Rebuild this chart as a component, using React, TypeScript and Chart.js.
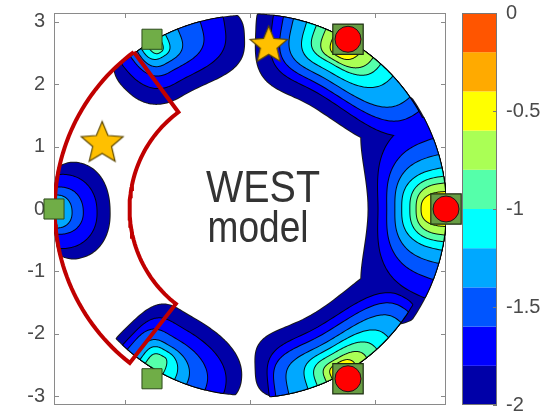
import React, { useEffect, useRef } from 'react';
import { Chart, registerables } from 'chart.js';

Chart.register(...registerables);

const FONT = "'Liberation Sans', Arial, Helvetica, sans-serif";
const R_MAX = Math.PI;

// colour bands of the log10 density (edges and colours, low to high)
const BAND_EDGES = [-2, -1.8, -1.6, -1.4, -1.2, -1, -0.8, -0.6, -0.4, -0.2, 0];
const BAND_COLORS = ['#0000a8', '#0000ff', '#0055ff', '#00a8ff', '#00ffff', '#55ffaa', '#aaff55', '#ffff00', '#ffaa00', '#ff5500'];
const COLORBAR_TICKS = [0, -0.5, -1, -1.5, -2];
const Y_TICKS = [-3, -2, -1, 0, 1, 2, 3];
const X_TICKS = [-2, 0, 2];

// density blobs on the ring: peak angle (deg), outer radius and, per contour level,
// [from angle, to angle, inner radius, tip radius]
const BLOB_NAMES = ['right', 'upper right', 'lower right', 'upper left', 'left', 'lower left'];
const BLOB_PEAK_DEG = [0, 60, -60, 120, 181, 240];
const BLOB_OUTER_R = [3.14, 3.12, 3.02, 3.1, 3.14, 2.98];
const BLOB_SHAPE_FROM = [2.6, 2.4, 3.5, 3, 2.2, 3.5];
const BLOB_SHAPE_TO = [2.6, 3.5, 2.4, 2.5, 2.2, 2.2];
const RIGHT_CONTOURS = [[-40, 40, 1.9, 2.65], [-27, 28, 2.06, 2.95], [-21, 21, 2.2, 3.0], [-16, 16, 2.33, 3.02], [-12, 12, 2.44, 3.05], [-9.5, 9.5, 2.57, 3.05], [-7.5, 7.5, 2.67, 3.08], [-5, 5, 2.75, 3.1]];
const UPPER_RIGHT_CONTOURS = [[22, 88, 1.93, 2.8], [25, 83, 2.16, 2.95], [30, 80, 2.29, 3.0], [35, 77, 2.42, 3.02], [43, 73, 2.55, 3.05], [48, 70, 2.68, 3.05], [51, 67, 2.75, 3.08], [55, 64, 2.83, 3.1]];
const LOWER_RIGHT_CONTOURS = [[-88, -22, 1.97, 2.55], [-84, -30, 2.19, 2.85], [-82, -33, 2.33, 2.92], [-78, -37, 2.47, 2.96], [-72, -43, 2.58, 2.98], [-69, -48, 2.68, 3.0], [-66, -52, 2.78, 3.0], [-64, -56, 2.85, 3.0]];
const UPPER_LEFT_CONTOURS = [[92, 136, 2.12, 2.75], [98, 131.5, 2.35, 2.95], [105, 128, 2.55, 3.0], [112, 125.5, 2.7, 3.02], [116, 124, 2.82, 3.05], [118, 122, 2.9, 3.08]];
const LEFT_CONTOURS = [[165, 196, 2.25, 2.8], [169.5, 192, 2.46, 2.95], [173.5, 187.5, 2.68, 3.02], [176, 185.5, 2.86, 3.08]];
const LOWER_LEFT_CONTOURS = [[224, 267, 1.97, 2.7], [227, 262, 2.2, 2.85], [229, 256, 2.4, 2.9], [232, 250, 2.55, 2.93], [234, 246, 2.65, 2.95], [236, 242, 2.75, 2.96]];
const BLOB_CONTOURS = [RIGHT_CONTOURS, UPPER_RIGHT_CONTOURS, LOWER_RIGHT_CONTOURS, UPPER_LEFT_CONTOURS, LEFT_CONTOURS, LOWER_LEFT_CONTOURS];

// markers
const SQUARE_DEG = [120, 180, 240];
const MODEL_DEG = [0, 60, -60];
const STAR_X = [-2.37, 0.3];
const STAR_Y = [1.05, 2.62];
const WEDGE_DEG = [126.5, 232];
const WEDGE_R = [1.93, 3.13];

function polar(r: number, deg: number) {
  const a = (deg * Math.PI) / 180;
  return { x: r * Math.cos(a), y: r * Math.sin(a) };
}

// closed contour: superellipse in (angle, radius) space, clipped to the blob's outer radius
function contourPolygon(peak: number, lv: number[], rOuter: number, nFrom: number, nTo: number) {
  const [from, to, rIn, rTipRaw] = lv;
  const rTip = Math.min(rTipRaw, rOuter);
  const pts: { x: number; y: number }[] = [];
  const STEPS = 160;
  const depth = rTip - rIn;
  for (let i = 0; i < STEPS; i++) {
    const t = (2 * Math.PI * i) / STEPS;
    const c = Math.cos(t);
    const s = Math.sin(t);
    const e = 2 / (c >= 0 ? nTo : nFrom);
    const half = c >= 0 ? to - peak : peak - from;
    const th = peak + Math.sign(c) * Math.pow(Math.abs(c), e) * half;
    const r = s >= 0
      ? rTip - depth * Math.pow(s, e)
      : Math.min(rOuter, rTip + depth * Math.pow(-s, e));
    pts.push(polar(r, th));
  }
  pts.push(pts[0]);
  return pts;
}

function wedgePolygon() {
  const pts: { x: number; y: number }[] = [];
  const N = 60;
  for (let i = 0; i <= N; i++) pts.push(polar(WEDGE_R[1], WEDGE_DEG[0] + ((WEDGE_DEG[1] - WEDGE_DEG[0]) * i) / N));
  for (let i = 0; i <= N; i++) pts.push(polar(WEDGE_R[0], WEDGE_DEG[1] - ((WEDGE_DEG[1] - WEDGE_DEG[0]) * i) / N));
  pts.push(pts[0]);
  return pts;
}

function makeStar(R: number) {
  const size = Math.ceil(2 * R + 4);
  const c = document.createElement('canvas');
  c.width = size;
  c.height = size;
  const g = c.getContext('2d')!;
  g.translate(size / 2, size / 2);
  g.beginPath();
  for (let i = 0; i < 10; i++) {
    const rr = i % 2 === 0 ? R : R * 0.45;
    const a = -Math.PI / 2 + (i * Math.PI) / 5;
    const x = rr * Math.cos(a);
    const y = rr * Math.sin(a);
    if (i === 0) g.moveTo(x, y);
    else g.lineTo(x, y);
  }
  g.closePath();
  g.fillStyle = '#ffc000';
  g.fill();
  g.lineWidth = 1.2;
  g.strokeStyle = '#5c4700';
  g.stroke();
  return c;
}

const contourPlugin = {
  id: 'contourFill',
  beforeDatasetsDraw(chart: any) {
    const { ctx, chartArea: a, scales } = chart;
    ctx.save();
    // axes box
    ctx.strokeStyle = '#8a8a8a';
    ctx.lineWidth = 1;
    ctx.strokeRect(a.left + 0.5, a.top + 0.5, a.width - 1, a.height - 1);
    ctx.beginPath();
    for (const v of Y_TICKS) {
      const py = Math.round(scales.y.getPixelForValue(v)) + 0.5;
      ctx.moveTo(a.left, py); ctx.lineTo(a.left + 5, py);
      ctx.moveTo(a.right, py); ctx.lineTo(a.right - 5, py);
    }
    for (const v of X_TICKS) {
      const px = Math.round(scales.x.getPixelForValue(v)) + 0.5;
      ctx.moveTo(px, a.top); ctx.lineTo(px, a.top + 5);
      ctx.moveTo(px, a.bottom); ctx.lineTo(px, a.bottom - 5);
    }
    ctx.stroke();

    // colour bar
    const cb = scales.cb;
    const x0 = a.right + 16;
    const w = 35;
    for (let k = 0; k < BAND_COLORS.length; k++) {
      const y1 = cb.getPixelForValue(BAND_EDGES[k]);
      const y2 = cb.getPixelForValue(BAND_EDGES[k + 1]);
      ctx.fillStyle = BAND_COLORS[k];
      ctx.fillRect(x0, y2, w, y1 - y2);
    }
    ctx.strokeStyle = '#777';
    ctx.strokeRect(x0 + 0.5, cb.top + 0.5, w - 1, cb.bottom - cb.top - 1);
    ctx.beginPath();
    for (const v of COLORBAR_TICKS) {
      const py = Math.round(cb.getPixelForValue(v)) + 0.5;
      ctx.moveTo(x0 + w, py); ctx.lineTo(x0 + w - 4, py);
    }
    ctx.stroke();

    // centre text
    const cx = (a.left + a.right) / 2;
    const cy = (a.top + a.bottom) / 2;
    ctx.fillStyle = '#333333';
    ctx.textAlign = 'center';
    ctx.textBaseline = 'alphabetic';
    ctx.font = `44px ${FONT}`;
    ctx.fillText('WEST', cx + 13, cy - 7, 114);
    ctx.fillText('model', cx + 8, cy + 33, 101);
    ctx.restore();
  },
  beforeDatasetDraw(chart: any, args: any) {
    const ds = chart.data.datasets[args.index];
    if (!ds.contourColor) return;
    const { ctx, chartArea: a } = chart;
    ctx.save();
    ctx.beginPath();
    ctx.rect(a.left, a.top, a.width, a.height);
    ctx.clip();
    ctx.beginPath();
    let start = true;
    for (const p of args.meta.data) {
      if (p.skip || isNaN(p.x) || isNaN(p.y)) {
        if (!start) ctx.closePath();
        start = true;
        continue;
      }
      if (start) { ctx.moveTo(p.x, p.y); start = false; }
      else ctx.lineTo(p.x, p.y);
    }
    if (!start) ctx.closePath();
    ctx.lineJoin = 'round';
    ctx.strokeStyle = 'rgba(0,0,0,0.9)';
    ctx.lineWidth = 2;
    ctx.stroke();
    ctx.fillStyle = ds.contourColor;
    ctx.fill();
    ctx.restore();
    return false;
  },
};

const fixVPad = (s: any) => { s.paddingTop = 12; s.paddingBottom = 12; };

export default function App() {
  const ref = useRef<HTMLCanvasElement>(null);
  useEffect(() => {
    const canvas = ref.current!;
    const stars = [makeStar(22), makeStar(19.5)];

    const maxLevels = Math.max(...BLOB_CONTOURS.map((c) => c.length));
    const contourSets: any[] = [];
    for (let k = 0; k < maxLevels; k++) {
      const data: any[] = [];
      BLOB_CONTOURS.forEach((levels, b) => {
        const lv = levels[k];
        if (!lv) return;
        data.push(...contourPolygon(BLOB_PEAK_DEG[b], lv, BLOB_OUTER_R[b], BLOB_SHAPE_FROM[b], BLOB_SHAPE_TO[b]));
        data.push({ x: null, y: null });
      });
      contourSets.push({
        label: `log density ≥ ${BAND_EDGES[k]}`,
        data,
        contourColor: BAND_COLORS[k],
        showLine: false,
        pointRadius: 0,
        order: 100 - k,
      });
    }

    const chart = new Chart(canvas, {
      type: 'scatter',
      data: {
        datasets: [
          ...contourSets,
          {
            label: 'region',
            data: wedgePolygon(),
            showLine: true,
            borderColor: '#c00000',
            borderWidth: 4,
            borderJoinStyle: 'miter',
            pointRadius: 0,
            fill: false,
            order: 10,
          },
          {
            label: 'data sites',
            data: SQUARE_DEG.map((d) => polar(R_MAX, d)),
            pointStyle: 'rect',
            pointRadius: 14.2,
            backgroundColor: '#70ad47',
            borderColor: '#2e4a1c',
            borderWidth: 1,
            clip: false,
            order: 4,
          },
          {
            label: 'model sites',
            data: MODEL_DEG.map((d) => polar(R_MAX, d)),
            pointStyle: 'rect',
            pointRadius: 21.5,
            backgroundColor: '#679d44',
            borderColor: '#1e2e12',
            borderWidth: 1.2,
            clip: false,
            order: 3,
          },
          {
            label: 'model peaks',
            data: MODEL_DEG.map((d) => polar(R_MAX, d)),
            pointStyle: 'circle',
            pointRadius: 13,
            backgroundColor: '#ff0000',
            borderColor: '#1a1a1a',
            borderWidth: 1,
            clip: false,
            order: 2,
          },
          {
            label: 'stars',
            data: STAR_X.map((x, i) => ({ x, y: STAR_Y[i] })),
            pointStyle: stars,
            pointRadius: 20,
            clip: false,
            order: 1,
          },
        ] as any,
      },
      options: {
        animation: false,
        responsive: false,
        devicePixelRatio: 1,
        events: [],
        layout: { autoPadding: false, padding: { top: 13, left: 0, right: 0, bottom: 0 } },
        plugins: { legend: { display: false }, tooltip: { enabled: false } },
        scales: {
          x: {
            type: 'linear',
            min: -Math.PI,
            max: Math.PI,
            afterBuildTicks: (s: any) => { s.ticks = X_TICKS.map((v) => ({ value: v })); },
            ticks: { display: false },
            grid: { display: false, drawTicks: false },
            border: { display: false },
            afterFit: (s: any) => { s.height = 12; s.paddingLeft = 0; s.paddingRight = 0; },
          },
          y: {
            type: 'linear',
            position: 'left',
            min: -Math.PI,
            max: Math.PI,
            afterBuildTicks: (s: any) => { s.ticks = Y_TICKS.map((v) => ({ value: v })); },
            ticks: { font: { family: FONT, size: 20 }, color: '#4a4a4a', padding: 9, callback: (v: any) => String(v) },
            grid: { display: false, drawTicks: false },
            border: { display: false },
            afterFit: (s: any) => { s.width = 54; fixVPad(s); },
          },
          cb: {
            type: 'linear',
            position: 'right',
            min: -2,
            max: 0,
            afterBuildTicks: (s: any) => { s.ticks = COLORBAR_TICKS.map((v) => ({ value: v })); },
            ticks: { font: { family: FONT, size: 20 }, color: '#4a4a4a', padding: 60, callback: (v: any) => String(v) },
            grid: { display: false, drawTicks: false },
            border: { display: false },
            afterFit: (s: any) => { s.width = 112; fixVPad(s); },
          },
        },
      } as any,
      plugins: [contourPlugin as any],
    });
    return () => chart.destroy();
  }, []);

  return (
    <div style={{ position: 'fixed', left: 0, top: 0, width: 558, height: 417, background: '#ffffff' }}>
      <canvas ref={ref} width={558} height={417} style={{ display: 'block' }} />
    </div>
  );
}
